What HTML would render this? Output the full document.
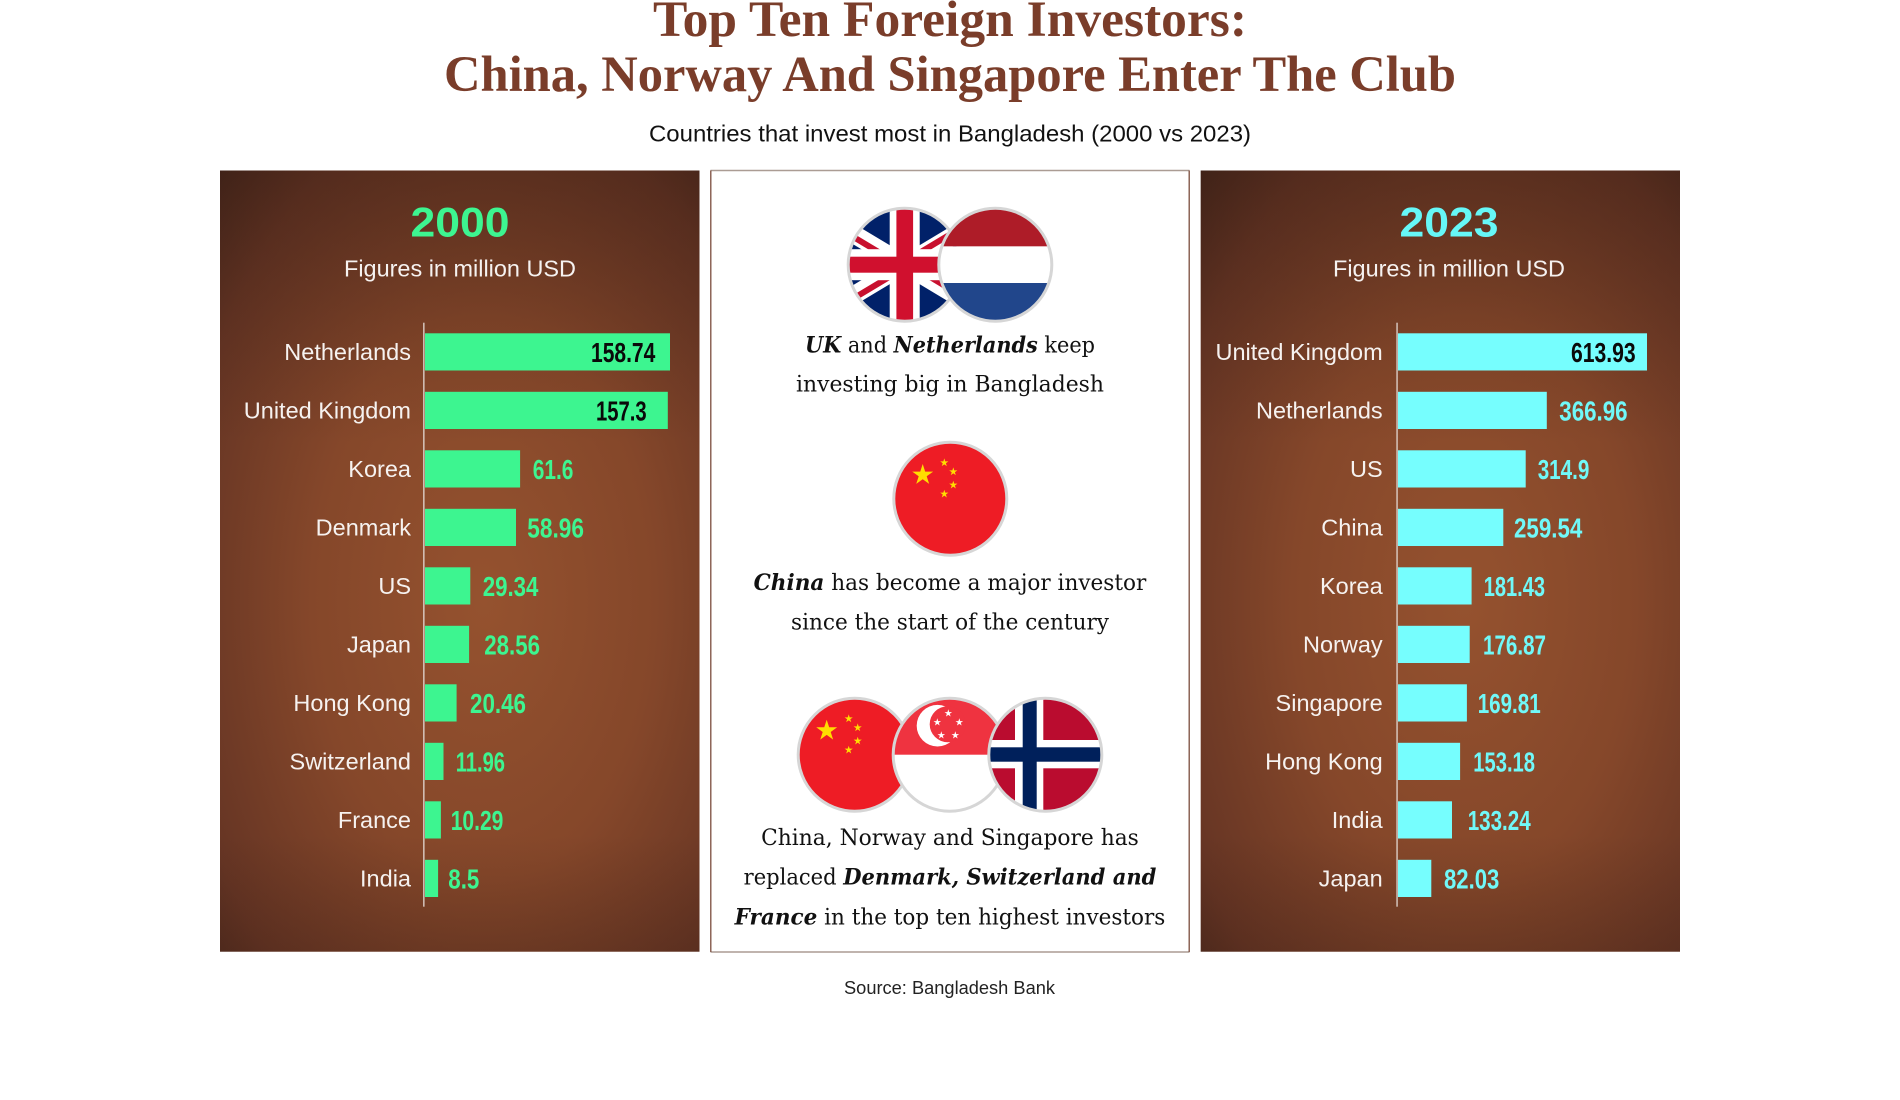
<!DOCTYPE html>
<html>
<head>
<meta charset="utf-8">
<style>
html,body{margin:0;padding:0;background:#fff;width:1900px;height:1100px;overflow:hidden;}
svg{display:block;}
</style>
</head>
<body>
<svg width="1900" height="1100" viewBox="0 0 1900 1100" xmlns="http://www.w3.org/2000/svg">
<defs>
  <radialGradient id="bg" cx="0.55" cy="0.55" r="0.8">
    <stop offset="0" stop-color="#95522f"/>
    <stop offset="0.45" stop-color="#85472a"/>
    <stop offset="0.8" stop-color="#663524"/>
    <stop offset="1" stop-color="#45261b"/>
  </radialGradient>
  <linearGradient id="shadeTop" x1="0" y1="0" x2="0" y2="1">
    <stop offset="0" stop-color="#2a150e" stop-opacity="0.3"/>
    <stop offset="0.35" stop-color="#2a150e" stop-opacity="0"/>
    <stop offset="0.85" stop-color="#2a150e" stop-opacity="0"/>
    <stop offset="1" stop-color="#2a150e" stop-opacity="0.2"/>
  </linearGradient>
  <clipPath id="c57"><circle cx="0" cy="0" r="57"/></clipPath>
  <path id="star" d="M0,-1 L0.2245,-0.309 L0.951,-0.309 L0.363,0.118 L0.588,0.809 L0,0.382 L-0.588,0.809 L-0.363,0.118 L-0.951,-0.309 L-0.2245,-0.309Z"/>
</defs>

<rect x="0" y="0" width="1900" height="1100" fill="#ffffff"/>

<!-- Title -->
<text x="950" y="36" text-anchor="middle" font-family="Liberation Serif, serif" font-weight="bold" font-size="50.5" fill="#7a3d2a" textLength="594" lengthAdjust="spacingAndGlyphs">Top Ten Foreign Investors:</text>
<text x="950" y="91" text-anchor="middle" font-family="Liberation Serif, serif" font-weight="bold" font-size="50.5" fill="#7a3d2a" textLength="1012" lengthAdjust="spacingAndGlyphs">China, Norway And Singapore Enter The Club</text>
<text x="950" y="141.7" text-anchor="middle" font-family="Liberation Sans, sans-serif" font-size="23.5" fill="#111" textLength="602" lengthAdjust="spacingAndGlyphs">Countries that invest most in Bangladesh (2000 vs 2023)</text>

<!-- Left panel -->
<rect x="220" y="170.5" width="479.5" height="781.2" fill="url(#bg)"/>
<rect x="220" y="170.5" width="479.5" height="781.2" fill="url(#shadeTop)"/>
<text x="460" y="236.7" text-anchor="middle" font-family="Liberation Sans, sans-serif" font-weight="bold" font-size="42" fill="#3df590" textLength="99" lengthAdjust="spacingAndGlyphs">2000</text>
<text x="460" y="276.7" text-anchor="middle" font-family="Liberation Sans, sans-serif" font-size="23.5" fill="#f6f2f0" textLength="232" lengthAdjust="spacingAndGlyphs">Figures in million USD</text>
<rect x="423.2" y="322.7" width="1.3" height="584" fill="#e2d8d2"/>

<g fill="#3df590">
  <rect x="425" y="333.3" width="245" height="37.2"/>
  <rect x="425" y="391.8" width="242.8" height="37.2"/>
  <rect x="425" y="450.3" width="95.1" height="37.2"/>
  <rect x="425" y="508.8" width="91" height="37.2"/>
  <rect x="425" y="567.3" width="45.3" height="37.2"/>
  <rect x="425" y="625.8" width="44.1" height="37.2"/>
  <rect x="425" y="684.3" width="31.6" height="37.2"/>
  <rect x="425" y="742.8" width="18.5" height="37.2"/>
  <rect x="425" y="801.3" width="15.9" height="37.2"/>
  <rect x="425" y="859.8" width="13.1" height="37.2"/>
</g>
<g font-family="Liberation Sans, sans-serif" font-size="23.5" fill="#f6f2f0" text-anchor="end">
  <text x="411" y="359.9">Netherlands</text>
  <text x="411" y="418.4">United Kingdom</text>
  <text x="411" y="476.9">Korea</text>
  <text x="411" y="535.4">Denmark</text>
  <text x="411" y="593.9">US</text>
  <text x="411" y="652.4">Japan</text>
  <text x="411" y="710.9">Hong Kong</text>
  <text x="411" y="769.4">Switzerland</text>
  <text x="411" y="827.9">France</text>
  <text x="411" y="886.4">India</text>
</g>
<g font-family="Liberation Sans, sans-serif" font-weight="bold" font-size="27.5" fill="#3df590">
  <text x="591" y="361.8" fill="#0a0a0a" textLength="64.3" lengthAdjust="spacingAndGlyphs">158.74</text>
  <text x="596" y="420.3" fill="#0a0a0a" textLength="50.7" lengthAdjust="spacingAndGlyphs">157.3</text>
  <text x="532.7" y="478.8" textLength="40.7" lengthAdjust="spacingAndGlyphs">61.6</text>
  <text x="527.3" y="537.3" textLength="56.7" lengthAdjust="spacingAndGlyphs">58.96</text>
  <text x="482.7" y="595.8" textLength="55.7" lengthAdjust="spacingAndGlyphs">29.34</text>
  <text x="484.3" y="654.3" textLength="55.7" lengthAdjust="spacingAndGlyphs">28.56</text>
  <text x="470" y="712.8" textLength="56" lengthAdjust="spacingAndGlyphs">20.46</text>
  <text x="455.7" y="771.3" textLength="49.3" lengthAdjust="spacingAndGlyphs">11.96</text>
  <text x="450.7" y="829.8" textLength="52.7" lengthAdjust="spacingAndGlyphs">10.29</text>
  <text x="448.3" y="888.3" textLength="31" lengthAdjust="spacingAndGlyphs">8.5</text>
</g>

<!-- Right panel -->
<rect x="1200.7" y="170.5" width="479.3" height="781.2" fill="url(#bg)"/>
<rect x="1200.7" y="170.5" width="479.3" height="781.2" fill="url(#shadeTop)"/>
<text x="1449" y="236.7" text-anchor="middle" font-family="Liberation Sans, sans-serif" font-weight="bold" font-size="42" fill="#66f7f7" textLength="99" lengthAdjust="spacingAndGlyphs">2023</text>
<text x="1449" y="276.7" text-anchor="middle" font-family="Liberation Sans, sans-serif" font-size="23.5" fill="#f6f2f0" textLength="232" lengthAdjust="spacingAndGlyphs">Figures in million USD</text>
<rect x="1396.4" y="322.7" width="1.3" height="584" fill="#e2d8d2"/>

<g fill="#76fefe">
  <rect x="1398" y="333.3" width="249" height="37.2"/>
  <rect x="1398" y="391.8" width="148.8" height="37.2"/>
  <rect x="1398" y="450.3" width="127.7" height="37.2"/>
  <rect x="1398" y="508.8" width="105.3" height="37.2"/>
  <rect x="1398" y="567.3" width="73.6" height="37.2"/>
  <rect x="1398" y="625.8" width="71.7" height="37.2"/>
  <rect x="1398" y="684.3" width="68.9" height="37.2"/>
  <rect x="1398" y="742.8" width="62.1" height="37.2"/>
  <rect x="1398" y="801.3" width="54" height="37.2"/>
  <rect x="1398" y="859.8" width="33.3" height="37.2"/>
</g>
<g font-family="Liberation Sans, sans-serif" font-size="23.5" fill="#f6f2f0" text-anchor="end">
  <text x="1382.7" y="359.9">United Kingdom</text>
  <text x="1382.7" y="418.4">Netherlands</text>
  <text x="1382.7" y="476.9">US</text>
  <text x="1382.7" y="535.4">China</text>
  <text x="1382.7" y="593.9">Korea</text>
  <text x="1382.7" y="652.4">Norway</text>
  <text x="1382.7" y="710.9">Singapore</text>
  <text x="1382.7" y="769.4">Hong Kong</text>
  <text x="1382.7" y="827.9">India</text>
  <text x="1382.7" y="886.4">Japan</text>
</g>
<g font-family="Liberation Sans, sans-serif" font-weight="bold" font-size="27.5" fill="#70f8f8">
  <text x="1571" y="361.8" fill="#0a0a0a" textLength="64.7" lengthAdjust="spacingAndGlyphs">613.93</text>
  <text x="1559.3" y="420.3" textLength="68.3" lengthAdjust="spacingAndGlyphs">366.96</text>
  <text x="1537.7" y="478.8" textLength="51.7" lengthAdjust="spacingAndGlyphs">314.9</text>
  <text x="1514" y="537.3" textLength="68.3" lengthAdjust="spacingAndGlyphs">259.54</text>
  <text x="1483.7" y="595.8" textLength="61.3" lengthAdjust="spacingAndGlyphs">181.43</text>
  <text x="1483" y="654.3" textLength="63" lengthAdjust="spacingAndGlyphs">176.87</text>
  <text x="1477.7" y="712.8" textLength="63" lengthAdjust="spacingAndGlyphs">169.81</text>
  <text x="1473.3" y="771.3" textLength="61.7" lengthAdjust="spacingAndGlyphs">153.18</text>
  <text x="1467.7" y="829.8" textLength="63" lengthAdjust="spacingAndGlyphs">133.24</text>
  <text x="1444" y="888.3" textLength="55.3" lengthAdjust="spacingAndGlyphs">82.03</text>
</g>

<!-- Middle panel -->
<rect x="710.5" y="170.5" width="479" height="781.5" fill="#ffffff"/>
<line x1="710.5" y1="170.5" x2="1189.5" y2="170.5" stroke="#ab9c94" stroke-width="1.5"/>
<line x1="710.5" y1="952" x2="1189.5" y2="952" stroke="#ab9c94" stroke-width="1.5"/>
<line x1="710.8" y1="170.5" x2="710.8" y2="952" stroke="#7a4c3c" stroke-width="1.3"/>
<line x1="1189.2" y1="170.5" x2="1189.2" y2="952" stroke="#7a4c3c" stroke-width="1.3"/>

<!-- UK flag -->
<g transform="translate(904.7,264.7)">
  <g clip-path="url(#c57)">
    <rect x="-60" y="-60" width="120" height="120" fill="#012169"/>
    <line x1="-100" y1="-60" x2="100" y2="60" stroke="#fff" stroke-width="18"/>
    <line x1="-100" y1="60" x2="100" y2="-60" stroke="#fff" stroke-width="18"/>
    <line x1="-100" y1="-57" x2="0" y2="3" stroke="#c8102e" stroke-width="6"/>
    <line x1="0" y1="-3" x2="100" y2="57" stroke="#c8102e" stroke-width="6"/>
    <line x1="-100" y1="63" x2="0" y2="3" stroke="#c8102e" stroke-width="6"/>
    <line x1="0" y1="-3" x2="100" y2="-63" stroke="#c8102e" stroke-width="6"/>
    <rect x="-15" y="-60" width="30" height="120" fill="#fff"/>
    <rect x="-60" y="-15.5" width="120" height="31" fill="#fff"/>
    <rect x="-8.3" y="-60" width="16.7" height="120" fill="#d0102e"/>
    <rect x="-60" y="-8" width="120" height="16" fill="#d0102e"/>
  </g>
  <circle r="56.5" fill="none" stroke="#d6d6d6" stroke-width="3"/>
</g>
<!-- NL flag -->
<g transform="translate(995.3,264.7)">
  <g clip-path="url(#c57)">
    <rect x="-60" y="-60" width="120" height="41.7" fill="#ae1c28"/>
    <rect x="-60" y="-18.3" width="120" height="36.6" fill="#fff"/>
    <rect x="-60" y="18.3" width="120" height="42" fill="#21468b"/>
  </g>
  <circle r="56.5" fill="none" stroke="#d6d6d6" stroke-width="3"/>
</g>

<g font-family="DejaVu Serif, Liberation Serif, serif" font-size="22" fill="#111" text-anchor="middle">
  <text x="950" y="352.7" textLength="290" lengthAdjust="spacingAndGlyphs"><tspan font-weight="bold" font-style="italic">UK</tspan> and <tspan font-weight="bold" font-style="italic">Netherlands</tspan> keep</text>
  <text x="950" y="391.7" textLength="308" lengthAdjust="spacingAndGlyphs">investing big in Bangladesh</text>
  <text x="950" y="590" textLength="392.7" lengthAdjust="spacingAndGlyphs"><tspan font-weight="bold" font-style="italic">China</tspan> has become a major investor</text>
  <text x="950" y="629.3" textLength="318" lengthAdjust="spacingAndGlyphs">since the start of the century</text>
  <text x="950" y="845" textLength="377.7" lengthAdjust="spacingAndGlyphs">China, Norway and Singapore has</text>
  <text x="950" y="884.3" textLength="412.7" lengthAdjust="spacingAndGlyphs">replaced <tspan font-weight="bold" font-style="italic">Denmark, Switzerland and</tspan></text>
  <text x="950" y="924.3" textLength="430.7" lengthAdjust="spacingAndGlyphs"><tspan font-weight="bold" font-style="italic">France</tspan> in the top ten highest investors</text>
</g>

<!-- China flag (single) -->
<g transform="translate(950.3,498.7)">
  <circle r="57" fill="#ee1c25"/>
  <g fill="#ffde00">
    <use href="#star" transform="translate(-27.6,-23.7) scale(11)"/>
    <use href="#star" transform="translate(-6,-36) scale(4.3)"/>
    <use href="#star" transform="translate(3,-27) scale(4.3)"/>
    <use href="#star" transform="translate(3,-13.7) scale(4.3)"/>
    <use href="#star" transform="translate(-6,-4.7) scale(4.3)"/>
  </g>
  <circle r="56.5" fill="none" stroke="#d6d6d6" stroke-width="3"/>
</g>

<!-- Group of three -->
<g transform="translate(854.7,754.7)">
  <circle r="57" fill="#ee1c25"/>
  <g fill="#ffde00">
    <use href="#star" transform="translate(-28,-24) scale(11)"/>
    <use href="#star" transform="translate(-6,-36) scale(4.3)"/>
    <use href="#star" transform="translate(3,-27) scale(4.3)"/>
    <use href="#star" transform="translate(3,-13.7) scale(4.3)"/>
    <use href="#star" transform="translate(-6,-4.7) scale(4.3)"/>
  </g>
  <circle r="56.5" fill="none" stroke="#d6d6d6" stroke-width="3"/>
</g>
<g transform="translate(949.7,754.7)">
  <g clip-path="url(#c57)">
    <rect x="-60" y="-60" width="120" height="120" fill="#fff"/>
    <rect x="-60" y="-60" width="120" height="60" fill="#ef3340"/>
    <circle cx="-12.2" cy="-29" r="20.8" fill="#fff"/>
    <circle cx="-2" cy="-30.5" r="18" fill="#ef3340"/>
    <g fill="#fff">
      <use href="#star" transform="translate(-1.4,-41.4) scale(4)"/>
      <use href="#star" transform="translate(9.6,-32.4) scale(4)"/>
      <use href="#star" transform="translate(5.6,-19.4) scale(4)"/>
      <use href="#star" transform="translate(-8.4,-19.4) scale(4)"/>
      <use href="#star" transform="translate(-12.4,-32.4) scale(4)"/>
    </g>
  </g>
  <circle r="56.5" fill="none" stroke="#d6d6d6" stroke-width="3"/>
</g>
<g transform="translate(1045.3,754.7)">
  <g clip-path="url(#c57)">
    <rect x="-60" y="-60" width="120" height="120" fill="#ba0c2f"/>
    <rect x="-30.3" y="-60" width="28.3" height="120" fill="#fff"/>
    <rect x="-60" y="-14.7" width="120" height="28.3" fill="#fff"/>
    <rect x="-22.6" y="-60" width="14" height="120" fill="#00205b"/>
    <rect x="-60" y="-7.4" width="120" height="14.4" fill="#00205b"/>
  </g>
  <circle r="56.5" fill="none" stroke="#d6d6d6" stroke-width="3"/>
</g>

<!-- Source -->
<text x="949.5" y="994" text-anchor="middle" font-family="Liberation Sans, sans-serif" font-size="18.5" fill="#222" textLength="211" lengthAdjust="spacingAndGlyphs">Source: Bangladesh Bank</text>
</svg>
</body>
</html>
